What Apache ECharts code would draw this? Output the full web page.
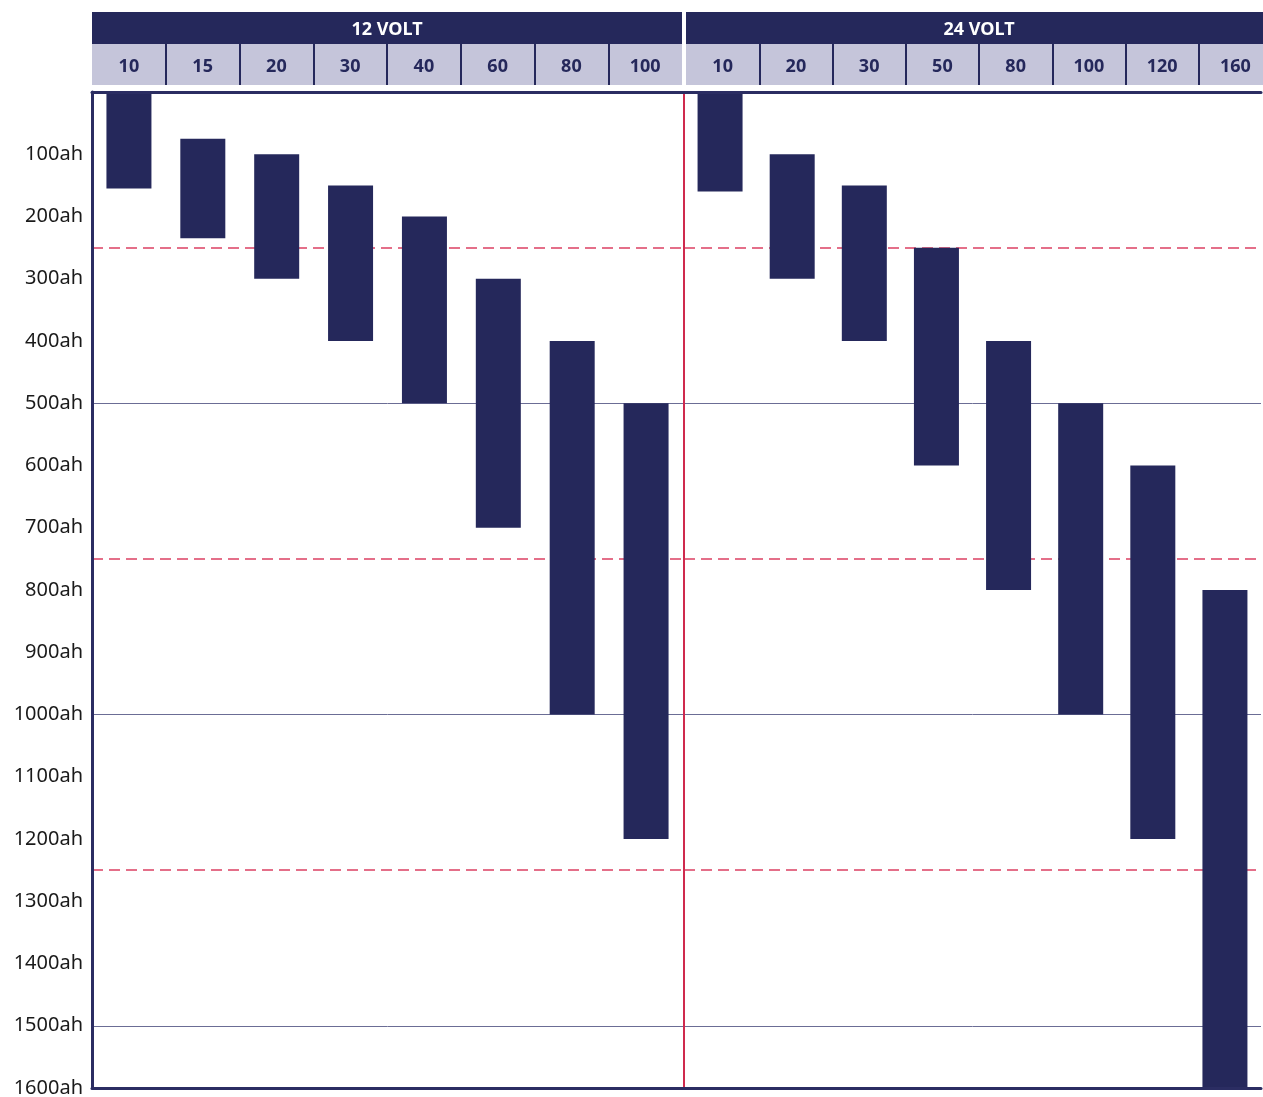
<!DOCTYPE html>
<html>
<head>
<meta charset="utf-8">
<script src="https://cdn.jsdelivr.net/npm/echarts@6/dist/echarts.min.js"></script>
<style>
html,body{margin:0;padding:0;background:#fff;overflow:hidden;}
#chart{width:1263px;height:1097px;}
</style>
</head>
<body>
<div id="chart"></div>
<script>
// ---- data ----
const groupTitles = ['12 VOLT', '24 VOLT'];
const cat12 = ['10', '15', '20', '30', '40', '60', '80', '100'];
const start12 = [0, 75, 100, 150, 200, 300, 400, 500];
const end12 = [155, 235, 300, 400, 500, 700, 1000, 1200];
const cat24 = ['10', '20', '30', '50', '80', '100', '120', '160'];
const start24 = [0, 100, 150, 250, 400, 500, 600, 800];
const end24 = [160, 300, 400, 600, 800, 1000, 1200, 1600];
const refLines = [250, 750, 1250];

// ---- style ----
const NAVY = '#25285b';
const BORDER = '#2b2d62';
const LAV = '#c5c5da';
const RED = '#cf2a4e';
const DASH = '#dc4063';
const FONT = 'Noto Sans';

const g1 = {left: 92, top: 92, width: 591, height: 996};
const g2 = {left: 684, top: 92, width: 577, height: 996};
const h1 = {left: 92, top: 44, width: 590, height: 41};
const h2 = {left: 686, top: 44, width: 586, height: 41};

function plotAxis(gi, cats, pos) {
  return {
    type: 'category', gridIndex: gi, data: cats, position: pos, offset: 0, z: 4,
    axisLine: {show: true, onZero: false, lineStyle: {color: BORDER, width: 3}},
    axisTick: {show: false}, axisLabel: {show: false}, splitLine: {show: false}
  };
}
function headerAxis(gi, cats) {
  return {
    type: 'category', gridIndex: gi, data: cats, position: 'bottom', boundaryGap: true,
    axisLine: {show: false, onZero: false}, axisTick: {show: false},
    axisLabel: {inside: true, interval: 0, margin: 18, verticalAlign: 'middle',
      color: NAVY, fontFamily: FONT, fontWeight: 'bold', fontSize: 18},
    splitArea: {show: true, interval: 0, areaStyle: {color: [LAV]}},
    splitLine: {show: true, interval: 0, showMinLine: false, showMaxLine: false,
      lineStyle: {color: NAVY, width: 2}}
  };
}
function bandAxis(gi, title, w) {
  return {
    type: 'category', gridIndex: gi, data: [title], position: 'top', offset: 0,
    axisLine: {show: false, onZero: false}, axisTick: {show: false},
    splitLine: {show: false}, splitArea: {show: false},
    axisLabel: {
      interval: 0, margin: 0, color: '#fff', fontFamily: FONT, fontWeight: 'bold', fontSize: 18,
      backgroundColor: NAVY, width: w, height: 28, lineHeight: 28, padding: [4, 0, 0, 0], align: 'center'
    }
  };
}
function splitAxis(gi) {
  return {
    type: 'value', gridIndex: gi, inverse: true, min: 0, max: 1600, interval: 500, position: 'left',
    axisLine: {show: false}, axisTick: {show: false}, axisLabel: {show: false},
    splitLine: {show: true, lineStyle: {color: '#6b6d95', width: 1}}
  };
}
function barSeries(xi, yi, starts, ends, name) {
  const lens = ends.map((e, i) => e - starts[i]);
  return [
    {type: 'bar', name: name + 'base', xAxisIndex: xi, yAxisIndex: yi, stack: name, data: starts,
     barWidth: 45, silent: true, z: 2, itemStyle: {color: 'rgba(0,0,0,0)'}},
    {type: 'bar', name: name, xAxisIndex: xi, yAxisIndex: yi, stack: name, data: lens,
     barWidth: 45, silent: true, z: 2, itemStyle: {color: NAVY},
     markLine: {silent: true, symbol: 'none', z: 1, label: {show: false},
       lineStyle: {color: DASH, type: [11, 6], width: 1.5},
       data: refLines.map(v => ({yAxis: v}))}}
  ];
}

const gridBase = {containLabel: false, outerBoundsMode: 'none'};
const option = {
  animation: false,
  backgroundColor: '#fff',
  grid: [
    Object.assign({}, gridBase, g1),
    Object.assign({}, gridBase, g2),
    Object.assign({}, gridBase, h1),
    Object.assign({}, gridBase, h2)
  ],
  xAxis: [
    plotAxis(0, cat12, 'top'),
    plotAxis(0, cat12, 'bottom'),
    plotAxis(1, cat24, 'top'),
    plotAxis(1, cat24, 'bottom'),
    headerAxis(2, cat12),
    bandAxis(2, groupTitles[0], h1.width),
    headerAxis(3, cat24),
    bandAxis(3, groupTitles[1], h2.width)
  ],
  yAxis: [
    {type: 'value', gridIndex: 0, inverse: true, min: 0, max: 1600, interval: 100, z: 4,
     axisLine: {show: true, lineStyle: {color: BORDER, width: 3}},
     axisTick: {show: false}, splitLine: {show: false},
     axisLabel: {showMinLabel: false, margin: 9, color: '#1a1a1a', fontFamily: FONT, fontSize: 20,
       formatter: v => v + 'ah'}},
    splitAxis(0),
    {type: 'value', gridIndex: 1, inverse: true, min: 0, max: 1600, interval: 100, z: 4,
     axisLine: {show: true, lineStyle: {color: RED, width: 2}},
     axisTick: {show: false}, splitLine: {show: false}, axisLabel: {show: false}},
    splitAxis(1),
    {type: 'value', gridIndex: 2, show: false},
    {type: 'value', gridIndex: 3, show: false}
  ],
  series: [
    ...barSeries(0, 0, start12, end12, 'v12'),
    ...barSeries(2, 2, start24, end24, 'v24')
  ]
};

const chart = echarts.init(document.getElementById('chart'), null, {renderer: 'canvas'});
chart.setOption(option);
</script>
</body>
</html>
